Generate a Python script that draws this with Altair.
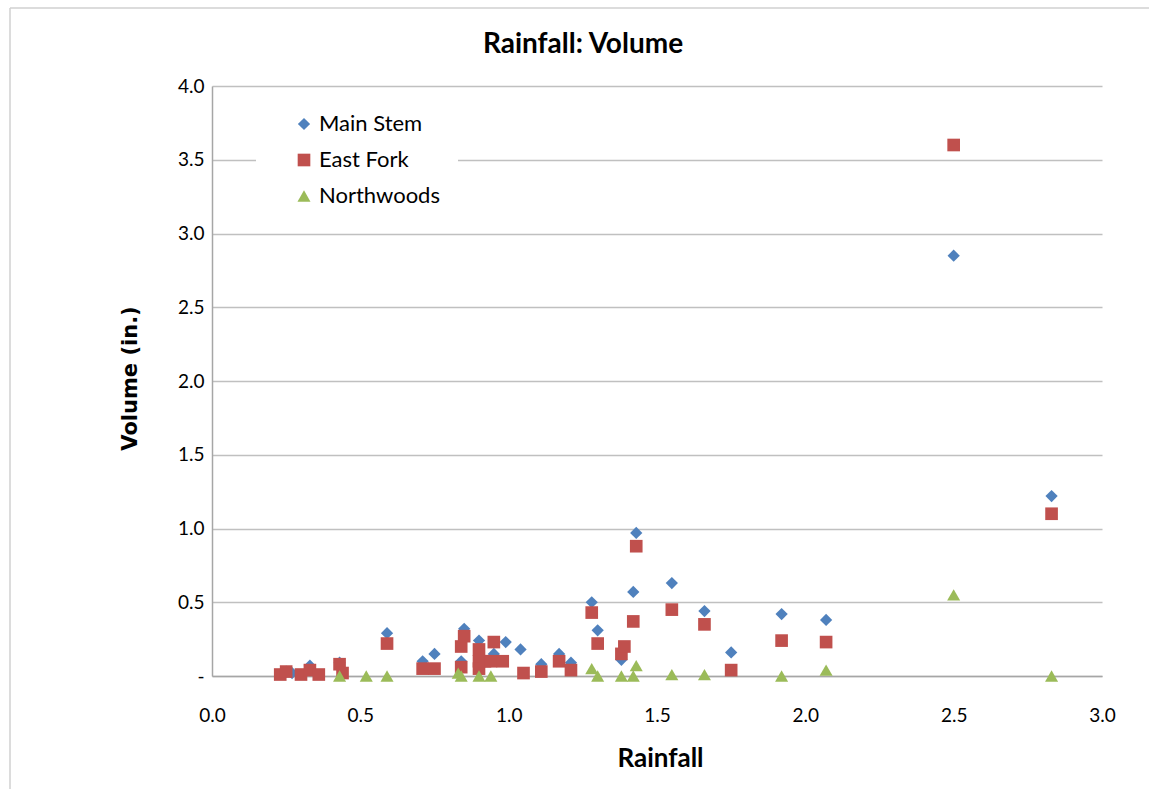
import altair as alt
import pandas as pd

chart_title = "Rainfall: Volume"
series_names = ["Main Stem", "East Fork", "Northwoods"]
series_colors = ["#4F81BD", "#C0504D", "#9BBB59"]
series_shapes = ["diamond", "square", "triangle-up"]
series_sizes = [150, 170, 170]

ms_rain = [0.25, 0.27, 0.33, 0.43, 0.59, 0.71, 0.75, 0.84, 0.85, 0.90, 0.95, 0.99,
           1.04, 1.11, 1.17, 1.21, 1.28, 1.30, 1.38, 1.42, 1.43, 1.55, 1.66, 1.75,
           1.92, 2.07, 2.50, 2.83]
ms_vol = [0.03, 0.02, 0.07, 0.09, 0.29, 0.10, 0.15, 0.10, 0.32, 0.24, 0.15, 0.23,
          0.18, 0.08, 0.15, 0.09, 0.50, 0.31, 0.11, 0.57, 0.97, 0.63, 0.44, 0.16,
          0.42, 0.38, 2.85, 1.22]

ef_rain = [0.23, 0.25, 0.30, 0.33, 0.36, 0.43, 0.44, 0.59, 0.71, 0.75, 0.84, 0.84,
           0.85, 0.90, 0.90, 0.90, 0.92, 0.94, 0.95, 0.98, 1.05, 1.11, 1.17, 1.21,
           1.28, 1.30, 1.38, 1.39, 1.42, 1.43, 1.55, 1.66, 1.75, 1.92, 2.07, 2.50, 2.83]
ef_vol = [0.01, 0.03, 0.01, 0.04, 0.01, 0.08, 0.02, 0.22, 0.05, 0.05, 0.06, 0.20,
          0.27, 0.18, 0.10, 0.05, 0.10, 0.10, 0.23, 0.10, 0.02, 0.03, 0.10, 0.04,
          0.43, 0.22, 0.15, 0.20, 0.37, 0.88, 0.45, 0.35, 0.04, 0.24, 0.23, 3.60, 1.10]

nw_rain = [0.43, 0.52, 0.59, 0.83, 0.84, 0.90, 0.94, 1.28, 1.30, 1.38, 1.42, 1.43,
           1.55, 1.66, 1.92, 2.07, 2.50, 2.83]
nw_vol = [0.00, 0.00, 0.00, 0.02, 0.00, 0.00, 0.00, 0.05, 0.00, 0.00, 0.00, 0.07,
          0.01, 0.01, 0.00, 0.04, 0.55, 0.00]

x_ticks = [0.0, 0.5, 1.0, 1.5, 2.0, 2.5, 3.0]
y_ticks = [0.0, 0.5, 1.0, 1.5, 2.0, 2.5, 3.0, 3.5, 4.0]

rows = []
for name, xs, ys in [("Main Stem", ms_rain, ms_vol),
                     ("East Fork", ef_rain, ef_vol),
                     ("Northwoods", nw_rain, nw_vol)]:
    for x, y in zip(xs, ys):
        rows.append({"series": name, "rain": x, "vol": y})
df = pd.DataFrame(rows)

legend = alt.Legend(title=None, orient="none", legendX=44, legendY=9,
                    fillColor="white", padding=18, symbolOffset=19, symbolSize=110,
                    labelFont="Lato", labelFontSize=22, labelColor="#000000",
                    labelOffset=4, rowPadding=14, symbolStrokeWidth=0)

points = alt.Chart(df).mark_point(filled=True, opacity=1).encode(
    x=alt.X("rain:Q",
            scale=alt.Scale(domain=[0, 3], nice=False),
            axis=alt.Axis(values=x_ticks, format=".1f", grid=False, ticks=False,
                          labelFlush=False,
                          domainColor="#a6a6a6", domainWidth=1.5,
                          labelFont="Lato", labelFontSize=19, labelColor="#000000",
                          labelPadding=30,
                          title="Rainfall", titleFont="Lato", titleFontSize=26,
                          titleFontWeight="bold", titleColor="#000000",
                          titleX=448, titleY=82, titleBaseline="middle")),
    y=alt.Y("vol:Q",
            scale=alt.Scale(domain=[0, 4], nice=False),
            axis=alt.Axis(values=y_ticks,
                          labelExpr="datum.value == 0 ? '-\u00a0\u00a0\u00a0\u00a0' : format(datum.value, '.1f')",
                          grid=True, gridColor="#c0c0c0", gridWidth=1.5, ticks=False,
                          labelFlush=False,
                          domainColor="#a6a6a6", domainWidth=1.5,
                          labelFont="Lato", labelFontSize=19, labelColor="#000000",
                          labelPadding=8,
                          title="Volume (in.)", titleFont="DejaVu Sans", titleFontSize=21,
                          titleFontWeight="bold", titleColor="#000000",
                          titleX=-82, titleY=292, titleAngle=270,
                          titleAlign="center", titleBaseline="middle")),
    color=alt.Color("series:N",
                    scale=alt.Scale(domain=series_names, range=series_colors),
                    legend=legend),
    shape=alt.Shape("series:N",
                    scale=alt.Scale(domain=series_names, range=series_shapes),
                    legend=legend),
    size=alt.Size("series:N",
                  scale=alt.Scale(domain=series_names, range=series_sizes),
                  legend=None),
)

title_mark = alt.Chart(alt.Data(values=[{"t": chart_title}])).mark_text(
    font="Lato", fontSize=28, fontWeight="bold", color="#000000",
    align="center", baseline="middle").encode(
    text="t:N", x=alt.value(371), y=alt.value(-41))

border_left = alt.Chart(alt.Data(values=[{}])).mark_rule(color="#d0d0d0", strokeWidth=1.5).encode(
    x=alt.value(-202), y=alt.value(-78), y2=alt.value(703))
border_top = alt.Chart(alt.Data(values=[{}])).mark_rule(color="#d0d0d0", strokeWidth=1.5).encode(
    x=alt.value(-202), x2=alt.value(937), y=alt.value(-78))

chart = alt.layer(border_left, border_top, title_mark, points).properties(
    width=890, height=590,
    autosize="none",
    background="white",
    padding={"left": 212, "top": 86, "right": 47, "bottom": 113},
).configure_view(stroke=None)

chart.save("out.html", embed_options={"renderer": "svg", "actions": False})
